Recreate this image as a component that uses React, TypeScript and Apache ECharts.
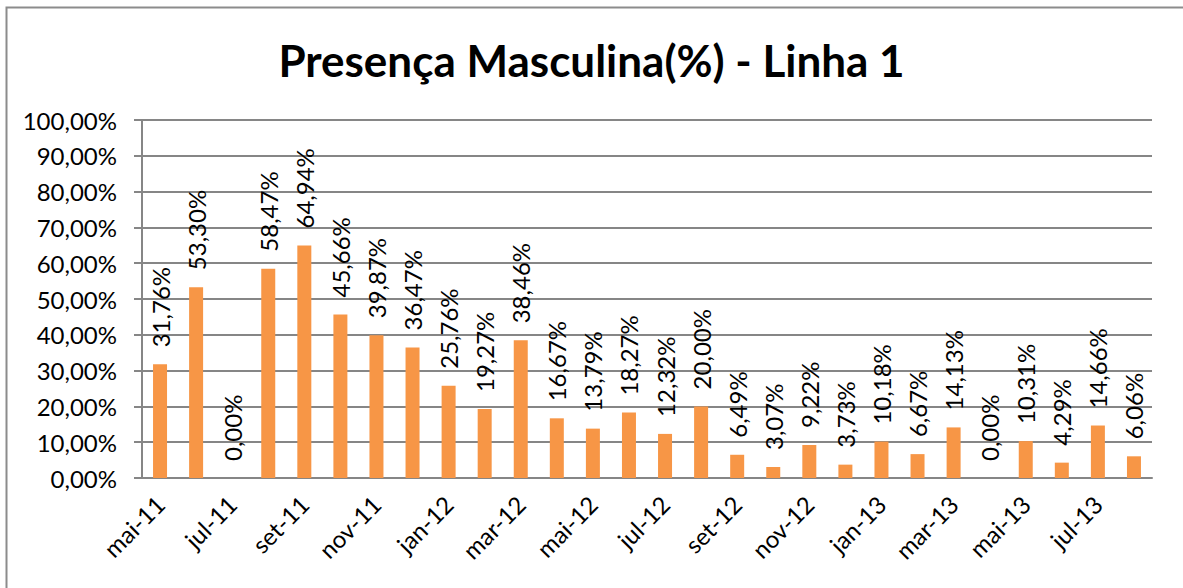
import React, { useEffect, useRef } from "react";
import * as echarts from "echarts";

const categories = [
  "mai-11", "jun-11", "jul-11", "ago-11", "set-11", "out-11", "nov-11", "dez-11",
  "jan-12", "fev-12", "mar-12", "abr-12", "mai-12", "jun-12", "jul-12", "ago-12",
  "set-12", "out-12", "nov-12", "dez-12", "jan-13", "fev-13", "mar-13", "abr-13",
  "mai-13", "jun-13", "jul-13", "ago-13",
];
const values = [
  31.76, 53.3, 0.0, 58.47, 64.94, 45.66, 39.87, 36.47,
  25.76, 19.27, 38.46, 16.67, 13.79, 18.27, 12.32, 20.0,
  6.49, 3.07, 9.22, 3.73, 10.18, 6.67, 14.13, 0.0,
  10.31, 4.29, 14.66, 6.06,
];
const yTicks = [0, 10, 20, 30, 40, 50, 60, 70, 80, 90, 100];

const fmt = (v: number) => v.toFixed(2).replace(".", ",") + "%";
const FONT = "Lato, 'Open Sans', sans-serif";

export default function App() {
  const ref = useRef<HTMLDivElement>(null);
  useEffect(() => {
    if (!ref.current) return;
    const chart = echarts.init(ref.current, null, { renderer: "svg" });
    chart.setOption({
      animation: false,
      backgroundColor: "#ffffff",
      title: {
        text: "Presença Masculina(%) - Linha 1",
        left: "center",
        top: 33,
        textStyle: { fontFamily: FONT, fontWeight: "bold", fontSize: 44, color: "#000" },
      },
      graphic: [
        {
          type: "rect",
          shape: { x: 6.5, y: 7.5, width: 1200, height: 600 },
          style: { fill: "none", stroke: "#8c8c8c", lineWidth: 2 },
          silent: true,
        },
      ],
      grid: { left: 142, right: 31, top: 120, bottom: 110, containLabel: false },
      xAxis: {
        type: "category",
        data: categories,
        boundaryGap: true,
        axisLine: { lineStyle: { color: "#868686", width: 2 } },
        axisTick: { interval: 1, length: 8, lineStyle: { color: "#868686", width: 2 } },
        axisLabel: {
          interval: 1,
          rotate: 45,
          margin: 22,
          fontFamily: FONT,
          fontSize: 24,
          color: "#000",
        },
      },
      yAxis: {
        type: "value",
        min: 0,
        max: 100,
        interval: 10,
        axisLine: { show: true, lineStyle: { color: "#868686", width: 2 } },
        axisTick: { show: true, length: 8, lineStyle: { color: "#868686", width: 2 } },
        axisLabel: {
          margin: 25,
          fontFamily: FONT,
          fontSize: 24,
          color: "#000",
          formatter: (v: number) => (yTicks.includes(v) ? fmt(v) : ""),
        },
        splitLine: { lineStyle: { color: "#868686", width: 2 } },
      },
      series: [
        {
          type: "bar",
          data: values,
          barWidth: 14,
          itemStyle: { color: "#F79646" },
          label: {
            show: true,
            position: "top",
            rotate: 90,
            align: "left",
            verticalAlign: "middle",
            distance: 17,
            fontFamily: FONT,
            fontSize: 24,
            color: "#000",
            formatter: (p: any) => fmt(p.value),
          },
        },
      ],
    });
    return () => chart.dispose();
  }, []);
  return (
    <div
      ref={ref}
      style={{ position: "fixed", left: 0, top: 0, width: 1183, height: 588 }}
    />
  );
}
